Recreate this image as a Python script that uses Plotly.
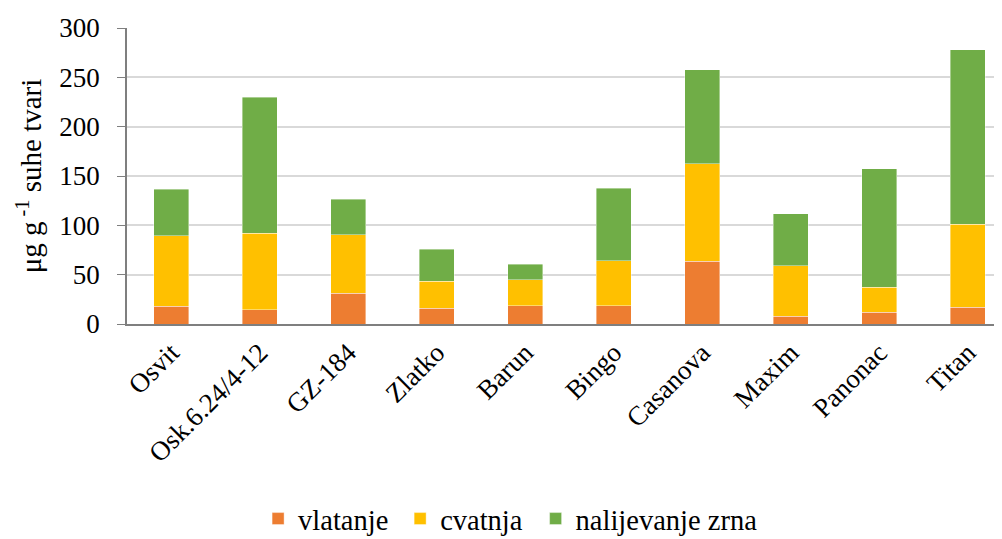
import plotly.graph_objects as go

categories = ["Osvit", "Osk.6.24/4-12", "GZ-184", "Zlatko", "Barun", "Bingo",
              "Casanova", "Maxim", "Panonac", "Titan"]
# cumulative tops
top_vlatanje = [17.9, 14.5, 31.4, 15.9, 18.6, 18.6, 63.5, 8.1, 11.8, 16.9]
top_cvatnja = [89.2, 92.2, 90.5, 43.2, 44.6, 63.9, 162.2, 59.1, 37.2, 101.0]
top_nalijevanje = [136.8, 230.0, 126.4, 75.7, 60.8, 137.5, 257.8, 111.8, 157.4, 278.0]

vlatanje = top_vlatanje
cvatnja = [b - a for a, b in zip(top_vlatanje, top_cvatnja)]
nalijevanje = [c - b for b, c in zip(top_cvatnja, top_nalijevanje)]

series = [("vlatanje", vlatanje, "#ED7D31", "legend"),
          ("cvatnja", cvatnja, "#FFC000", "legend2"),
          ("nalijevanje zrna", nalijevanje, "#70AD47", "legend3")]
legend_x = [0.1500, 0.3125, 0.4675]

FONT = "Liberation Serif, Times New Roman, serif"

fig = go.Figure()
for name, vals, col, lg in series:
    fig.add_trace(go.Bar(x=categories, y=vals, name=name, marker_color=col, legend=lg,
                         marker_line=dict(color="rgba(255,255,255,0.5)", width=0.8)))

legend_common = dict(orientation="h", xanchor="left", y=-0.659, yanchor="middle",
                     font=dict(family=FONT, size=28.5, color="#000"), itemwidth=30,
                     bgcolor="rgba(0,0,0,0)")

fig.update_layout(
    barmode="stack",
    bargap=0.6,
    width=1002, height=539,
    margin=dict(l=119, r=9, t=20, b=223, autoexpand=False),
    plot_bgcolor="white", paper_bgcolor="white",
    font=dict(family=FONT, size=26, color="#000000"),
    legend=dict(x=legend_x[0], **legend_common),
    legend2=dict(x=legend_x[1], **legend_common),
    legend3=dict(x=legend_x[2], **legend_common),
    showlegend=True,
)
fig.update_xaxes(
    range=[-0.5, 9.376], tickangle=-45, showgrid=False, automargin=False,
    showline=True, linecolor="#7f7f7f", linewidth=2,
    tickfont=dict(family=FONT, size=27, color="#000"), ticks="",
)
fig.update_yaxes(
    range=[0, 300], dtick=50, showgrid=True, gridcolor="#d9d9d9", gridwidth=1.5,
    showline=True, linecolor="#7f7f7f", linewidth=1.5, automargin=False,
    ticks="outside", ticklen=8, tickcolor="#7f7f7f", ticklabelstandoff=12,
    tickfont=dict(family=FONT, size=27, color="#000"),
    title=dict(text="μg g<sup> -1</sup> suhe tvari", font=dict(family=FONT, size=29),
               standoff=9),
    zeroline=False,
)
fig.write_html("out.html")
